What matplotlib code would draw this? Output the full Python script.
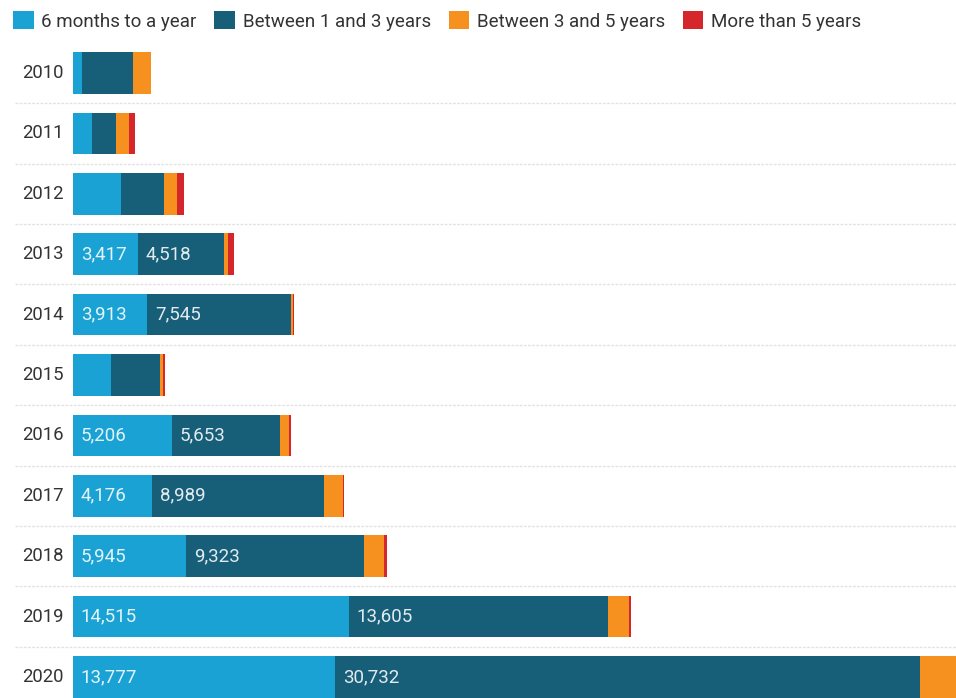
import matplotlib.pyplot as plt
from matplotlib.patches import Patch

years = ["2010", "2011", "2012", "2013", "2014", "2015", "2016", "2017", "2018", "2019", "2020"]
series_names = ["6 months to a year", "Between 1 and 3 years", "Between 3 and 5 years", "More than 5 years"]

six_months = [470, 1000, 2510, 3417, 3913, 2000, 5206, 4176, 5945, 14515, 13777]
one_to_three = [2690, 1245, 2290, 4518, 7545, 2575, 5653, 8989, 9323, 13605, 30732]
three_to_five = [920, 715, 670, 230, 100, 150, 490, 1030, 1070, 1120, 2000]
over_five = [0, 285, 370, 300, 80, 100, 120, 60, 180, 60, 0]

colors = ["#1aa2d4", "#175e79", "#f6911f", "#d4262b"]
label_min = 3000

plt.rcParams["font.family"] = ["Roboto", "DejaVu Sans"]

fig = plt.figure(figsize=(9.56, 6.98), dpi=100)
ax = fig.add_axes([0, 0, 1, 655 / 698])

series = [six_months, one_to_three, three_to_five, over_five]
left = [0] * len(years)
for vals, col in zip(series, colors):
    ax.barh(range(len(years)), vals, left=left, height=0.69, color=col, linewidth=0)
    if col in colors[:2]:
        for i, (l, v) in enumerate(zip(left, vals)):
            if v >= label_min:
                ax.annotate(f"{v:,}", xy=(l, i), xytext=(5.5, 0), textcoords="offset points",
                            ha="left", va="center", color="white", alpha=0.88, fontsize=13.5)
    left = [a + b for a, b in zip(left, vals)]

for i, y in enumerate(years):
    ax.annotate(y, xy=(0, i), xytext=(-6.5, 0), textcoords="offset points",
                ha="right", va="center", color="#333333", fontsize=13.3)
    if i < len(years) - 1:
        ax.axhline(i + 0.5, xmin=15 / 956, xmax=1, color="#e2e2e2", lw=1, ls=(0, (2, 1)))

px = 52.55  # data units per pixel
ax.set_xlim(-73 * px, 883 * px)
ax.set_ylim(10 + 21 / 60.4, -30 / 60.4)
ax.axis("off")

handles = [Patch(facecolor=c, edgecolor="none") for c in colors]
fig.legend(handles, series_names, loc="upper left", bbox_to_anchor=(0.002, 1.0), ncol=4,
           frameon=False, fontsize=13.5, handlelength=1.1, handleheight=1.1,
           handletextpad=0.4, columnspacing=0.95, labelcolor="#333333",
           borderaxespad=0.3, borderpad=0.3)

fig.savefig("out.png", dpi=100)
